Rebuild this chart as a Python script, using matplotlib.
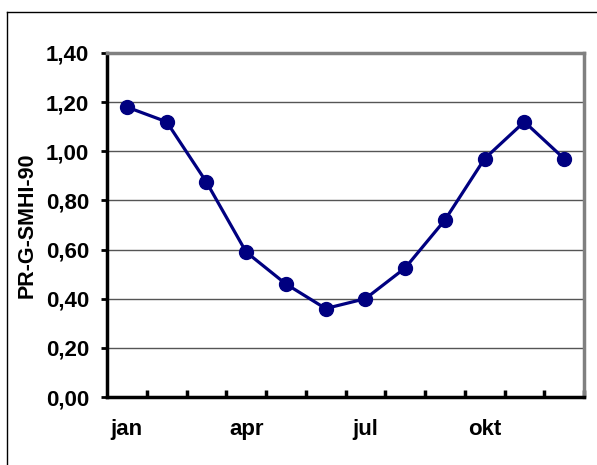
import matplotlib.pyplot as plt
from matplotlib.lines import Line2D

# data
months = ['jan', 'feb', 'mar', 'apr', 'maj', 'jun', 'jul', 'aug', 'sep', 'okt', 'nov', 'dec']
values = [1.18, 1.12, 0.875, 0.59, 0.46, 0.36, 0.40, 0.525, 0.72, 0.97, 1.12, 0.97]
shown_labels = ['jan', 'apr', 'jul', 'okt']
y_ticks = [0.0, 0.2, 0.4, 0.6, 0.8, 1.0, 1.2, 1.4]

plt.rcParams['font.family'] = ['Liberation Sans', 'DejaVu Sans']
plt.rcParams['font.weight'] = 'bold'

fig = plt.figure(figsize=(5.97, 4.65), dpi=100)
ax = fig.add_axes([107/597, 68/465, 477/597, 344/465])

x = list(range(len(months)))
ax.plot(x, values, color='#000080', lw=2.3, marker='o', markersize=10, zorder=3)

ax.set_xlim(-0.5, len(months) - 0.5)
ax.set_ylim(0, 1.4)

# y axis
ax.set_yticks(y_ticks)
ax.set_yticklabels([f'{v:.2f}'.replace('.', ',') for v in y_ticks], fontsize=16, fontweight='bold')
ax.tick_params(axis='y', direction='out', length=4, width=2, pad=9)
ax.yaxis.grid(True, color='#555555', lw=1)
ax.set_axisbelow(True)

# x axis: labels at centers, ticks at boundaries
ax.set_xticks([months.index(m) for m in shown_labels])
ax.set_xticklabels(shown_labels, fontsize=16, fontweight='bold')
ax.tick_params(axis='x', which='major', length=0, pad=16)
ax.set_xticks([i - 0.5 for i in range(1, len(months) + 1)], minor=True)
ax.tick_params(axis='x', which='minor', direction='in', length=5, width=2.5)

ax.set_ylabel('PR-G-SMHI-90', fontsize=15.5, fontweight='bold', labelpad=6)

for s in ['left', 'bottom']:
    ax.spines[s].set_color('black')
    ax.spines[s].set_linewidth(2.5)
for s in ['top', 'right']:
    ax.spines[s].set_color('#808080')
    ax.spines[s].set_linewidth(2.5)

# outer frame
fig.add_artist(Line2D([7/597, 7/597], [0, (465-12)/465], color='black', lw=1))
fig.add_artist(Line2D([7/597, 1], [(465-12)/465, (465-12)/465], color='black', lw=1))

fig.savefig('out.png', dpi=100)
